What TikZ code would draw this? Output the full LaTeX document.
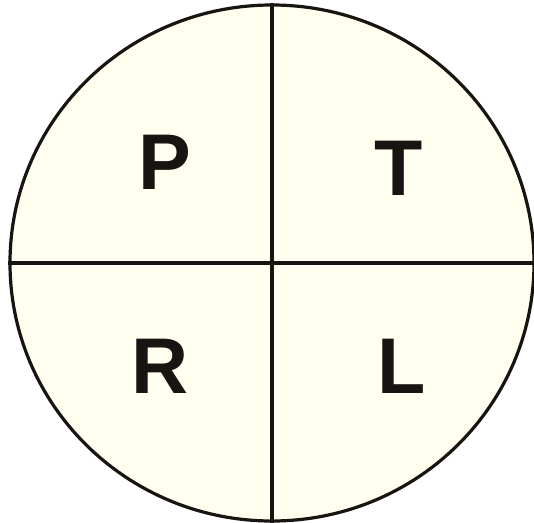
\documentclass[tikz,border=0pt]{standalone}
\usepackage{fontspec}
\setmainfont{Liberation Sans}
\usetikzlibrary{shapes.geometric}
\definecolor{cream}{RGB}{255,255,240}
\definecolor{ink}{RGB}{24,20,18}
\tikzset{
  quad/.style={font=\bfseries\fontsize{79}{80}\selectfont, text=ink, anchor=base, inner sep=0pt},
  divider/.style={draw=ink, line width=3.2pt},
}
\begin{document}
\begin{tikzpicture}[x=1pt,y=-1pt]
\useasboundingbox (0,0) rectangle (534,522);
\clip (0,0) rectangle (534,522);
\fill[white] (0,0) rectangle (534,522);
\node[ellipse, draw=ink, fill=cream, line width=3.2pt, minimum width=524pt, minimum height=516pt, inner sep=0pt] (c) at (272,263) {};
\draw[divider] (c.north) -- (c.south);
\draw[divider] (c.west) -- (c.east);
\node[quad] (p) at (165,189) {P};
\node[quad] (t) at (399,195) {T};
\node[quad] (r) at (160,393) {R};
\node[quad] (l) at (402,393) {L};
\end{tikzpicture}
\end{document}
